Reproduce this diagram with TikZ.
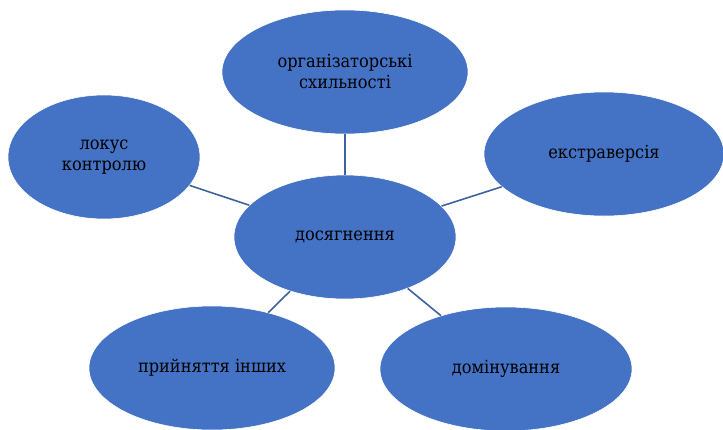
\documentclass[tikz,border=0pt]{standalone}
\usepackage{fontspec}
\setmainfont{DejaVu Serif Condensed}
\usetikzlibrary{shapes.geometric}
\definecolor{bubble}{HTML}{4472C4}
\definecolor{spoke}{HTML}{3F62A0}
\tikzset{
  bubble/.style={ellipse, fill=bubble, draw=white, line width=0.6pt, inner sep=0pt,
    align=center, font=\fontsize{18}{21}\selectfont, text=black},
  spoke/.style={draw=spoke, line width=1.6pt}
}

\begin{document}
\begin{tikzpicture}[x=1pt, y=-1pt]
  \useasboundingbox (0,0) rectangle (723,429);
  \clip (0,0) rectangle (723,429);
  \node[bubble, minimum width=222pt, minimum height=124pt] (Center) at (345,237) {досягнення};
  \node[bubble, minimum width=246pt, minimum height=124pt] (Org) at (345,72) {організаторські\\схильності};
  \node[bubble, minimum width=192pt, minimum height=124pt] (Locus) at (104,157) {локус\\контролю};
  \node[bubble, minimum width=240pt, minimum height=124pt] (Extra) at (604,154) {екстраверсія};
  \node[bubble, minimum width=246pt, minimum height=124pt] (Accept) at (212,368) {прийняття інших};
  \node[bubble, minimum width=252pt, minimum height=124pt] (Domin) at (506,369) {домінування};
  \draw[spoke] (Center) -- (Org);
  \draw[spoke] (Center) -- (Locus);
  \draw[spoke] (Center) -- (Extra);
  \draw[spoke] (Center) -- (Accept);
  \draw[spoke] (Center) -- (Domin);
\end{tikzpicture}
\end{document}
